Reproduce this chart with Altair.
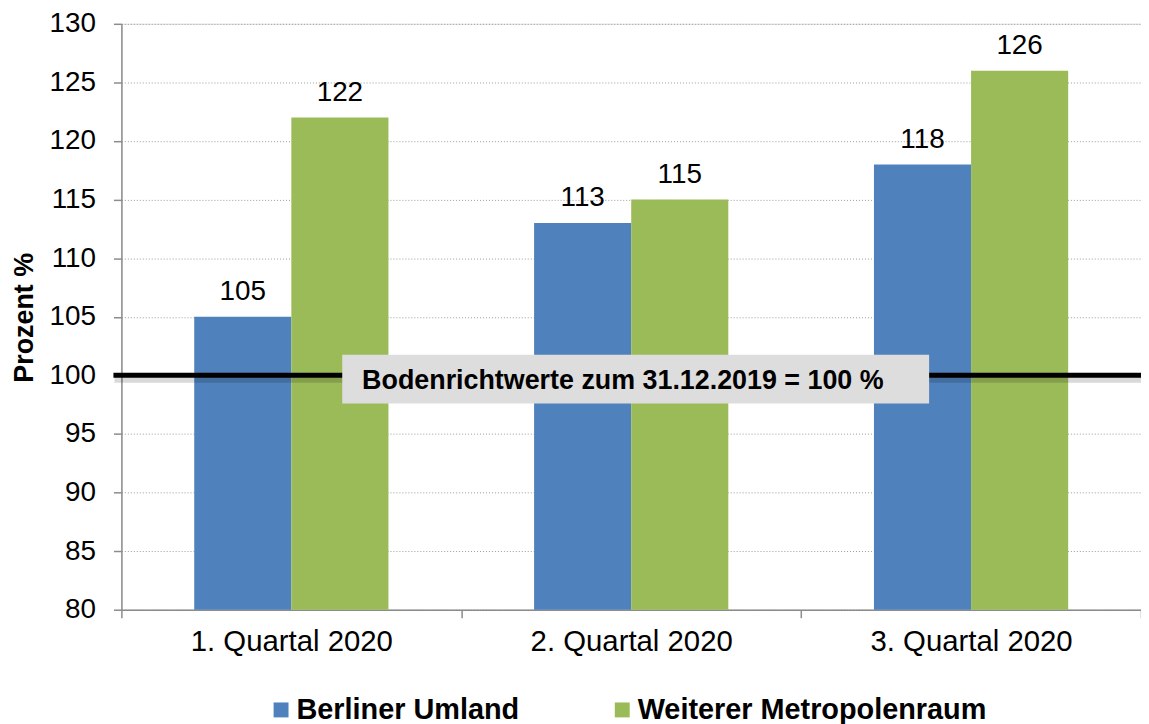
import altair as alt
import pandas as pd

quartale = ["1. Quartal 2020", "2. Quartal 2020", "3. Quartal 2020"]
serien = ["Berliner Umland", "Weiterer Metropolenraum"]
umland = [105, 113, 118]
metropol = [122, 115, 126]
farben = ["#4F81BD", "#9BBB59"]
ref_wert = [100]
ref_text = ["Bodenrichtwerte zum 31.12.2019 = 100 %"]

rows = []
for q, a, b in zip(quartale, umland, metropol):
    rows.append({"Quartal": q, "Serie": serien[0], "Wert": a})
    rows.append({"Quartal": q, "Serie": serien[1], "Wert": b})
df = pd.DataFrame(rows)

W = 1025
H = 589
FONT = "Liberation Sans"

x_enc = alt.X("Quartal:N", sort=quartale,
              scale=alt.Scale(paddingInner=0, paddingOuter=0),
              axis=alt.Axis(title=None, labelFontSize=29.5, labelColor="#000000",
                            labelFont=FONT, labelPadding=10, tickBand="extent",
                            tickSize=8, tickColor="#8C8C8C", domainColor="#8C8C8C",
                            domainWidth=1.5, tickWidth=1.5, labelAngle=0, grid=False,
                            labelLimit=400))
xo_enc = alt.XOffset("Serie:N", sort=serien,
                     scale=alt.Scale(paddingInner=0, paddingOuter=0.75))
y_scale = alt.Scale(domain=[80, 130], zero=False, nice=False)

base = alt.Chart(df)

bars = base.mark_bar().encode(
    x=x_enc,
    xOffset=xo_enc,
    y=alt.Y("Wert:Q", scale=y_scale,
            axis=alt.Axis(title="Prozent %", values=list(range(80, 131, 5)),
                          labelFontSize=28, labelFont=FONT, labelColor="#000000",
                          labelPadding=18, tickSize=8, tickColor="#8C8C8C",
                          tickWidth=1.5, domainColor="#8C8C8C", domainWidth=1.5,
                          grid=True, gridColor="#9A9A9A", gridDash=[1, 2],
                          gridWidth=1, titleFont=FONT, titleFontSize=27,
                          titleFontWeight="bold", titleColor="#000000",
                          titleX=-89, titleY=295, titleBaseline="alphabetic",
                          titleAngle=-90)),
    y2=alt.datum(80),
    color=alt.Color("Serie:N", sort=serien,
                    scale=alt.Scale(domain=serien, range=farben),
                    legend=alt.Legend(title=None, orient="none", direction="horizontal",
                                      legendX=146, legendY=675, symbolType="square",
                                      symbolSize=225, symbolStrokeWidth=0,
                                      labelFontSize=29, labelFont=FONT,
                                      labelFontWeight="bold", labelColor="#000000",
                                      labelOffset=1, columnPadding=89, padding=0,
                                      labelLimit=500)),
)

labels = base.mark_text(fontSize=28, font=FONT, color="#000000", baseline="alphabetic",
                        dy=-17).encode(
    x=alt.X("Quartal:N", sort=quartale),
    xOffset=alt.XOffset("Serie:N", sort=serien),
    y=alt.Y("Wert:Q", scale=y_scale),
    text=alt.Text("Wert:Q"),
)

ref_df = pd.DataFrame({"y": ref_wert, "t": ref_text})
ref = alt.Chart(ref_df)

shadow = ref.mark_rule(color="#000000", opacity=0.15, strokeWidth=7, yOffset=4).encode(
    y=alt.Y("y:Q", scale=y_scale), x=alt.value(-7), x2=alt.value(W))
line = ref.mark_rule(color="#000000", strokeWidth=5).encode(
    y=alt.Y("y:Q", scale=y_scale), x=alt.value(-8), x2=alt.value(W))

box = ref.mark_rect(color="#DDDDDD").encode(
    x=alt.value(222), x2=alt.value(812),
    y=alt.datum(101.75, scale=y_scale), y2=alt.datum(97.6))
box_text = ref.mark_text(align="left", baseline="alphabetic", fontSize=27, font=FONT,
                         fontWeight="bold", color="#000000").encode(
    x=alt.value(242), y=alt.datum(98.85, scale=y_scale), text="t:N")

chart = alt.layer(bars, labels, shadow, line, box, box_text).properties(
    width=W, height=H,
    autosize=alt.AutoSizeParams(type="none"),
    padding={"left": 114, "top": 14, "right": 0, "bottom": 113},
).configure_view(stroke=None).configure(background="#FFFFFF")

chart.save("out.html", embed_options={"renderer": "svg", "actions": False})
